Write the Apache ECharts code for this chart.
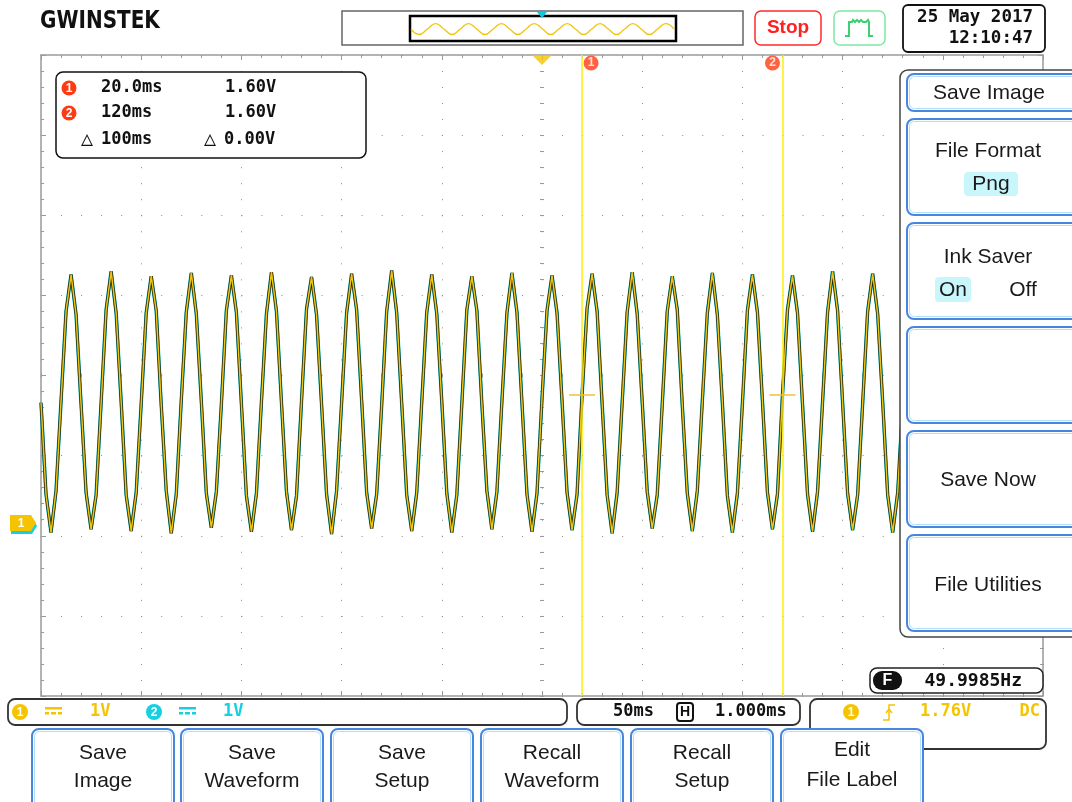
<!DOCTYPE html>
<html><head><meta charset="utf-8">
<script src="https://cdn.jsdelivr.net/npm/echarts@6/dist/echarts.min.js"></script>
<style>html,body{margin:0;padding:0;background:#fff}#c{width:1072px;height:802px}</style>
</head><body><div id="c"></div>
<script>
// ---- data ----
const T0 = -250;          // ms, first visible sample (left edge)
const DT = 2.5;           // ms between samples
const ch1Volts = [
  1.50, 0.36, -0.12, 0.40, 1.52, 2.64, 3.10, 2.60,
  1.48, 0.38, -0.08, 0.35, 1.50, 2.66, 3.14, 2.62,
  1.51, 0.35, -0.10, 0.38, 1.49, 2.62, 3.08, 2.65,
  1.47, 0.40, -0.13, 0.36, 1.53, 2.63, 3.12, 2.61,
  1.52, 0.37, -0.06, 0.39, 1.48, 2.65, 3.09, 2.63,
  1.49, 0.34, -0.11, 0.37, 1.51, 2.61, 3.13, 2.64,
  1.50, 0.39, -0.09, 0.34, 1.52, 2.67, 3.07, 2.60,
  1.48, 0.36, -0.14, 0.40, 1.50, 2.62, 3.11, 2.66,
  1.53, 0.38, -0.07, 0.36, 1.47, 2.64, 3.15, 2.62,
  1.49, 0.35, -0.10, 0.38, 1.51, 2.63, 3.10, 2.61,
  1.51, 0.37, -0.12, 0.35, 1.49, 2.66, 3.08, 2.65,
  1.48, 0.40, -0.08, 0.39, 1.52, 2.62, 3.12, 2.63,
  1.50, 0.36, -0.11, 0.37, 1.55, 2.65, 3.09, 2.62,
  1.52, 0.38, -0.09, 0.36, 1.60, 2.68, 3.11, 2.64,
  1.49, 0.35, -0.13, 0.38, 1.50, 2.63, 3.13, 2.61,
  1.51, 0.39, -0.07, 0.35, 1.48, 2.64, 3.08, 2.66,
  1.47, 0.37, -0.10, 0.40, 1.52, 2.62, 3.12, 2.60,
  1.50, 0.34, -0.12, 0.37, 1.49, 2.65, 3.10, 2.63,
  1.52, 0.38, -0.08, 0.36, 1.60, 2.66, 3.09, 2.62,
  1.48, 0.36, -0.11, 0.39, 1.51, 2.63, 3.14, 2.65,
  1.50, 0.37, -0.09, 0.35, 1.49, 2.64, 3.11, 2.61,
  1.51, 0.35, -0.12, 0.38, 1.50
];
const overviewWave = [0,-1,0,1, 0,-1,0,1, 0,-1,0,1, 0,-1,0,1, 0,-1,0,1, 0,-1,0,1, 0,-1,0,1, 0,-1,0,1, 0];
const cursorTimes = [20, 120];      // ms
const cursorVolts = [1.60, 1.60];   // V
const cursorTimeText = ['20.0ms', '120ms'];
const cursorVoltText = ['1.60V', '1.60V'];
const deltaText = ['100ms', '0.00V'];
const triggerTime = 0;
const channelScale = ['1V', '1V'];
const timebaseText = '50ms';
const hPosText = '1.000ms';
const trigLevelText = '1.76V';
const couplingText = 'DC';
const freqText = '49.9985Hz';
const dateText = ['25 May 2017', '12:10:47'];
const menuTitles = ['Save Image', 'File Format', 'Ink Saver', '', 'Save Now', 'File Utilities'];
const softKeys = [['Save','Image'],['Save','Waveform'],['Save','Setup'],['Recall','Waveform'],['Recall','Setup'],['Edit','File Label']];

// ---- chart ----
const chart = echarts.init(document.getElementById('c'));
const MONO = '"DejaVu Sans Mono", monospace';
const SANS = '"Liberation Sans", Arial, sans-serif';
const YEL = '#f5c400', CYAN = '#14d0e2', RED = '#ff3a12', BLUE = '#4586e0', GRID = '#9a9a9a';
const VMIN = -2.16, VMAX = 5.84;

const pts = ch1Volts.map((v, i) => [T0 + i * DT, v]);
const ovPts = overviewWave.map((v, i) => [i, v]);

function borderAxis(extra) {
  return Object.assign({
    gridIndex: 0, type: 'value', axisLabel: {show: false},
    axisLine: {show: true, onZero: false, lineStyle: {color: GRID, width: 1.5}},
    axisTick: {show: true, inside: true, length: 5, lineStyle: {color: GRID}},
    minorTick: {show: true, splitNumber: 5, length: 3, lineStyle: {color: GRID}},
    splitLine: {show: false}
  }, extra);
}
function centerAxis(extra) {
  return Object.assign({
    gridIndex: 0, type: 'value', axisLabel: {show: false},
    axisLine: {show: false, onZero: false},
    axisTick: {show: true, inside: true, length: 2, lineStyle: {color: '#999'}},
    minorTick: {show: true, splitNumber: 5, length: 2, lineStyle: {color: '#999'}},
    splitLine: {show: false}
  }, extra);
}

const xBase = {min: -250, max: 250, interval: 50};
const yBase = {min: -4, max: 4, interval: 1};

function txt(x, y, s, o) {
  o = o || {};
  const el = {type: 'text', z: o.z || 120, style: {x: x, y: y, text: s, fill: o.fill || '#111',
    font: o.font || ('bold 17px ' + MONO), align: o.align || 'left', verticalAlign: 'middle'}};
  if (o.scaleY) { el.scaleY = o.scaleY; el.originX = x; el.originY = y; }
  return el;
}
function rr(x, y, w, h, r, stroke, fill, lw, z) {
  return {type: 'rect', z: z || 110, shape: {x: x, y: y, width: w, height: h, r: r},
    style: {fill: fill === undefined ? '#fff' : fill, stroke: stroke, lineWidth: lw || 1.5}};
}
function badge(cx, cy, r, color, s) {
  return [
    {type: 'circle', z: 121, shape: {cx: cx, cy: cy, r: r}, style: {fill: color}},
    txt(cx, cy + 0.5, s, {fill: '#fff', font: 'bold 12px ' + SANS, align: 'center', z: 122})
  ];
}

const g = [];
// logo
g.push(txt(40, 22, 'GWINSTEK', {font: 'bold 20px "DejaVu Sans", sans-serif', fill: '#111', scaleY: 1.2}));
// overview box
g.push(rr(342, 11, 401, 34, 0, '#666', '#fff', 1.5, 5));
g.push(rr(410, 16, 266, 25, 0, '#000', 'transparent', 2.5, 6));
g.push({type: 'polygon', z: 8, shape: {points: [[537, 12], [547, 12], [542, 18]]}, style: {fill: '#10c8dc'}});
// Stop
g.push(rr(755, 11, 66, 34, 6, '#ff2a2a', '#fff', 1.5, 5));
g.push(txt(788, 28, 'Stop', {fill: '#ff2020', font: 'bold 19px ' + SANS, align: 'center'}));
// acquire button
g.push(rr(834, 11, 51, 34, 6, '#7ee8a4', '#fff', 1.5, 5));
g.push({type: 'polyline', z: 8, shape: {points: [[845, 36], [849, 36], [849, 22], [852, 22], [853, 20], [855, 22], [857, 20], [859, 22], [861, 20], [863, 22], [866, 22], [868, 20], [869, 22], [869, 36], [873, 36]]},
  style: {stroke: '#3ecf72', lineWidth: 2, fill: null}});
// date box
g.push(rr(903, 5, 142, 47, 5, '#111', '#fff', 1.8, 5));
g.push(txt(1033, 17, dateText[0], {font: 'bold 17.5px ' + MONO, align: 'right'}));
g.push(txt(1033, 38, dateText[1], {font: 'bold 17.5px ' + MONO, align: 'right'}));

// cursor readout box
g.push(rr(56, 72, 310, 86, 7, '#111', '#fff', 1.5, 110));
[88, 113].forEach((y, i) => {
  g.push(...badge(69, y, 7.5, RED, String(i + 1)));
  g.push(txt(101, y, cursorTimeText[i]));
  g.push(txt(225, y, cursorVoltText[i]));
});
g.push(txt(81, 140, '\u25B3', {font: '20px ' + MONO}));
g.push(txt(101, 140, deltaText[0]));
g.push(txt(204, 140, '\u25B3', {font: '20px ' + MONO}));
g.push(txt(224, 140, deltaText[1]));

// right menu panel
g.push({type: 'rect', z: 100, shape: {x: 900, y: 70, width: 200, height: 567, r: [8, 0, 0, 8]}, style: {fill: '#fff', stroke: '#444', lineWidth: 1.5}});
const menuBoxes = [[74, 37], [119, 96], [223, 96], [327, 96], [431, 96], [535, 96]];
menuBoxes.forEach((b, i) => {
  g.push(rr(907, b[0], 190, b[1], 7, BLUE, '#fff', 2, 104));
  g.push(rr(909.5, b[0] + 2.5, 185, b[1] - 5, 5, '#b4dcf6', 'transparent', 1, 105));
});
const MF = '21px ' + SANS;
const MC = '#1a1a1a';
g.push(txt(989, 93, menuTitles[0], {font: MF, fill: MC, align: 'center'}));
g.push(txt(988, 151, menuTitles[1], {font: MF, fill: MC, align: 'center'}));
g.push(rr(964, 172, 54, 24, 4, null, '#c8f6fb', 0, 106));
g.push(txt(991, 184, 'Png', {font: MF, fill: MC, align: 'center'}));
g.push(txt(988, 257, menuTitles[2], {font: MF, fill: MC, align: 'center'}));
g.push(rr(935, 277, 36, 25, 4, null, '#c8f6fb', 0, 106));
g.push(txt(953, 290, 'On', {font: MF, fill: MC, align: 'center'}));
g.push(txt(1023, 290, 'Off', {font: MF, fill: MC, align: 'center'}));
g.push(txt(988, 480, menuTitles[4], {font: MF, fill: MC, align: 'center'}));
g.push(txt(988, 585, menuTitles[5], {font: MF, fill: MC, align: 'center'}));

// frequency box
g.push(rr(870, 668, 173, 25, 7, '#222', '#fff', 1.5, 110));
g.push(rr(873, 671, 29, 19, 9, null, '#111', 0, 111));
g.push(txt(887.5, 681, 'F', {fill: '#fff', font: 'bold 16px ' + SANS, align: 'center'}));
g.push(txt(1022, 681, freqText, {font: 'bold 18px ' + MONO, align: 'right'}));

// channel status bar
g.push(rr(8, 699, 559, 26, 7, '#333', '#fff', 1.8, 110));
g.push(...badge(20, 712, 8, YEL, '1'));
g.push(...badge(154, 712, 8, CYAN, '2'));
[[45, YEL], [179, CYAN]].forEach(p => {
  const x = p[0], c = p[1];
  g.push({type: 'rect', z: 121, shape: {x: x, y: 707, width: 17, height: 2.5}, style: {fill: c}});
  [[0, 4], [6, 5], [13, 4]].forEach(d => g.push({type: 'rect', z: 121, shape: {x: x + d[0], y: 712, width: d[1], height: 2.5}, style: {fill: c}}));
});
g.push(txt(90, 712, channelScale[0], {fill: YEL}));
g.push(txt(223, 712, channelScale[1], {fill: CYAN}));

// timebase box
g.push(rr(577, 699, 223, 26, 7, '#333', '#fff', 1.8, 110));
g.push(txt(613, 712, timebaseText));
g.push(rr(677, 703, 16, 18, 3, '#111', '#fff', 2, 111));
g.push(txt(685, 712, 'H', {font: 'bold 14px ' + SANS, align: 'center'}));
g.push(txt(715, 712, hPosText));

// trigger box
g.push(rr(810, 699, 236, 50, 7, '#333', '#fff', 1.8, 110));
g.push(...badge(851, 712, 8, YEL, '1'));
g.push({type: 'polyline', z: 121, shape: {points: [[883, 720], [889, 720], [889, 705], [895, 705]]}, style: {stroke: YEL, lineWidth: 1.5, fill: null}});
g.push({type: 'polyline', z: 121, shape: {points: [[886, 713], [889, 709], [892, 713]]}, style: {stroke: YEL, lineWidth: 1.5, fill: null}});
g.push(txt(920, 712, trigLevelText, {fill: YEL}));
g.push(txt(1040, 712, couplingText, {fill: YEL, align: 'right'}));

// soft keys
const keyX = [32, 181, 331, 481, 631, 781];
softKeys.forEach((k, i) => {
  const x = keyX[i];
  g.push(rr(x, 729, 142, 100, 7, BLUE, '#fff', 2, 130));
  g.push(rr(x + 2.5, 731.5, 137, 100, 5, '#b4dcf6', 'transparent', 1, 131));
  const y1 = i === 5 ? 750 : 753, y2 = i === 5 ? 780 : 781;
  g.push(txt(x + 71, y1, k[0], {font: MF, fill: MC, align: 'center', z: 132}));
  g.push(txt(x + 71, y2, k[1], {font: MF, fill: MC, align: 'center', z: 132}));
});

const option = {
  animation: false,
  backgroundColor: '#fff',
  grid: [
    {left: 41, top: 55, width: 1002, height: 641},
    {left: 411, top: 17, width: 263, height: 24}
  ],
  xAxis: [
    borderAxis(Object.assign({position: 'bottom',
      splitLine: {show: true, lineStyle: {color: '#8a8a8a', width: 1, type: [1, 15.025]}}}, xBase)),
    borderAxis(Object.assign({position: 'top'}, xBase)),
    centerAxis(Object.assign({position: 'bottom', offset: -320.5}, xBase)),
    centerAxis(Object.assign({position: 'top', offset: -320.5}, xBase)),
    {gridIndex: 1, type: 'value', min: 0, max: 32, show: false}
  ],
  yAxis: [
    borderAxis(Object.assign({position: 'left',
      splitLine: {show: true, lineStyle: {color: '#8a8a8a', width: 1, type: [1, 19.04]}}}, yBase)),
    borderAxis(Object.assign({position: 'right'}, yBase)),
    {gridIndex: 0, type: 'value', min: VMIN, max: VMAX, show: false},
    centerAxis(Object.assign({position: 'left', offset: -501}, yBase)),
    centerAxis(Object.assign({position: 'right', offset: -501}, yBase)),
    {gridIndex: 1, type: 'value', min: -2.2, max: 2.2, show: false}
  ],
  series: [
    {type: 'line', xAxisIndex: 0, yAxisIndex: 2, data: pts, symbol: 'none', silent: true, z: 3,
      lineStyle: {color: CYAN, width: 3.6}},
    {type: 'line', xAxisIndex: 0, yAxisIndex: 2, data: pts, symbol: 'none', silent: true, z: 4,
      lineStyle: {color: '#26260a', width: 3.0}},
    {type: 'line', xAxisIndex: 0, yAxisIndex: 2, data: pts, symbol: 'none', silent: true, z: 5,
      lineStyle: {color: '#efc414', width: 1.5},
      markLine: {silent: true, symbol: ['none', 'none'], label: {show: false}, animation: false,
        data: [
          {xAxis: cursorTimes[0], lineStyle: {color: '#ffee00', width: 1.5, type: 'solid'}},
          {xAxis: cursorTimes[1], lineStyle: {color: '#ffee00', width: 1.5, type: 'solid'}},
          [{coord: [cursorTimes[0] - 6.5, cursorVolts[0]], lineStyle: {color: '#f2c230', width: 1.5, type: 'solid'}},
           {coord: [cursorTimes[0] + 6.5, cursorVolts[0]]}],
          [{coord: [cursorTimes[1] - 6.5, cursorVolts[1]], lineStyle: {color: '#f2c230', width: 1.5, type: 'solid'}},
           {coord: [cursorTimes[1] + 6.5, cursorVolts[1]]}]
        ]}},
    {type: 'scatter', xAxisIndex: 0, yAxisIndex: 2, silent: true, clip: false, z: 8,
      data: cursorTimes.map((t, i) => ({value: [t, VMAX], symbolOffset: [i === 0 ? 9 : -10, 8],
        label: {show: true, formatter: String(i + 1)}})),
      symbol: 'circle', symbolSize: 15, itemStyle: {color: RED},
      label: {show: true, position: 'inside', color: '#fff', fontWeight: 'bold', fontSize: 12, fontFamily: SANS}},
    {type: 'scatter', xAxisIndex: 0, yAxisIndex: 2, silent: true, clip: false, z: 8,
      data: [[triggerTime, VMAX]], symbol: 'triangle', symbolRotate: 180, symbolSize: [20, 10],
      symbolOffset: [0, 5], itemStyle: {color: '#f5c400'}},
    {type: 'line', xAxisIndex: 4, yAxisIndex: 5, data: ovPts, symbol: 'none', smooth: true, silent: true, z: 10,
      lineStyle: {color: '#f2c40c', width: 1.3}}
  ],
  graphic: g
};
chart.setOption(option);

// ground marker for channel 1 (0 V) and channel 2 behind it
const gy = chart.convertToPixel({yAxisIndex: 2}, 0);
const tag = (dx, dy) => [[10 + dx, gy - 8 + dy], [31 + dx, gy - 8 + dy], [36 + dx, gy + dy], [31 + dx, gy + 8 + dy], [10 + dx, gy + 8 + dy]];
g.push({type: 'polygon', z: 20, shape: {points: tag(1, 3)}, style: {fill: CYAN}});
g.push({type: 'polygon', z: 21, shape: {points: tag(0, 0)}, style: {fill: YEL}});
g.push(txt(21, gy + 0.5, '1', {fill: '#fff', font: 'bold 12px ' + SANS, align: 'center', z: 22}));
chart.setOption({graphic: g}, {replaceMerge: ['graphic']});
</script>
</body></html>
